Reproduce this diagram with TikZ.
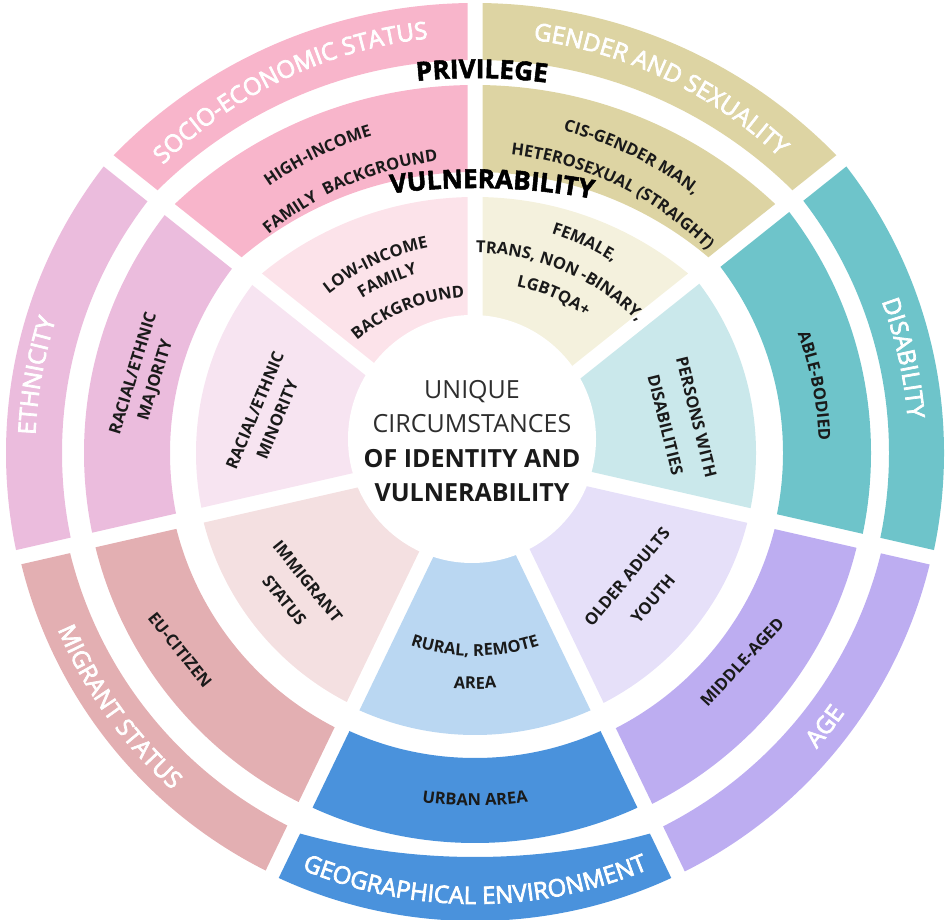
\documentclass[tikz,border=0pt]{standalone}
\usepackage{fontspec}
\setmainfont{Open Sans}
\newfontfamily\wheelsemi{Open Sans}[FakeBold=3]
\newfontfamily\wheelheavy{Open Sans}[BoldFeatures={FakeBold=2}]
\usetikzlibrary{calc,decorations.text}

% ring colours: A = outer and middle bands, B = inner band
\definecolor{socioA}{HTML}{F8B5CB}
\definecolor{socioB}{HTML}{FCE3EA}
\definecolor{ethA}{HTML}{EBBCDD}
\definecolor{ethB}{HTML}{F7E4F1}
\definecolor{migA}{HTML}{E3AFB2}
\definecolor{migB}{HTML}{F4E0E1}
\definecolor{geoA}{HTML}{4A92DC}
\definecolor{geoB}{HTML}{BAD7F2}
\definecolor{ageA}{HTML}{BDADF1}
\definecolor{ageB}{HTML}{E6E0F9}
\definecolor{disA}{HTML}{6EC4CA}
\definecolor{disB}{HTML}{CAE8EB}
\definecolor{genA}{HTML}{DDD4A3}
\definecolor{genB}{HTML}{F4F1DD}
\definecolor{ink}{HTML}{1A1A1A}
\definecolor{softink}{HTML}{2E2E2E}

\newcommand\wheelouter{\wheelsemi\fontsize{24}{24}\selectfont}
\newcommand\wheelaxis{\wheelheavy\fontsize{26}{26}\selectfont\bfseries}
\newcommand\wheellabel{\fontsize{16.5}{20}\selectfont\bfseries}

% one band of a sector: colour, outer centre, outer radius, inner centre,
% inner radius, start angle, end angle; sectors are separated by 15pt gaps
\newcommand\wheelpiece[7]{%
  \begin{scope}
    \coordinate (apex) at ($(O)+({(#6+#7)/2}:{7.5/sin((#7-#6)/2)})$);
    \clip (apex) -- ($(apex)+(#6:900)$) -- ($(apex)+({(#6+#7)/2}:1100)$)
      -- ($(apex)+(#7:900)$) -- cycle;
    \fill[#1, even odd rule] (#2) circle[radius=#3] (#4) circle[radius=#5];
  \end{scope}}

% text along an arc: centre, radius, start angle, end angle, font, colour, text
\newcommand\wheeltext[7]{%
  \path[decorate, decoration={text along path, text align=center,
      text color=#6, text={|#5|#7}}]
    ($(#1)+(#3:#2)$) arc[start angle=#3, end angle=#4, radius=#2];}

\tikzset{
  lbl/.style={font=\bfseries\fontsize{16.5}{#1}\selectfont, align=center,
    inner sep=0pt, text=ink},
  lbl/.default=24,
  core/.style={font=\fontsize{25}{34.5}\selectfont, align=center,
    inner sep=0pt, text=softink}
}

\begin{document}
\begin{tikzpicture}[x=1pt,y=1pt]
\useasboundingbox (0,0) rectangle (947,920);

\coordinate (O) at (475,467);   % hub of the wheel
\coordinate (T) at (475,442);   % arc centre for the lettering of the top sectors
\coordinate (H) at (472,481);   % centre of the white disc
\coordinate (G) at (475,723);   % flatter inner edge of the geographical band
\coordinate (P) at (475,282);   % arc centre of the PRIVILEGE heading
\coordinate (V) at (475,82);    % arc centre of the VULNERABILITY heading
% flatter edges of the two top sectors
\coordinate (S1) at (475,412);
\coordinate (S2) at (475,408);
\coordinate (S3) at (475,397);
\coordinate (S4) at (475,386);
\coordinate (S5) at (475,388);

% socio-economic status
\wheelpiece{socioA}{S1}{505}{S2}{452}{90}{141.43}
\wheelpiece{socioA}{S3}{438}{S4}{362}{90}{141.43}
\wheelpiece{socioB}{S5}{335}{S5}{1}{90}{141.43}
% ethnicity
\wheelpiece{ethA}{O}{469}{O}{413}{141.43}{192.86}
\wheelpiece{ethA}{O}{391}{O}{305}{141.43}{192.86}
\wheelpiece{ethB}{O}{279}{O}{1}{141.43}{192.86}
% migrant status
\wheelpiece{migA}{O}{467}{O}{417}{192.86}{244.29}
\wheelpiece{migA}{O}{391}{O}{308}{192.86}{244.29}
\wheelpiece{migB}{O}{280}{O}{1}{192.86}{244.29}
% geographical environment
\wheelpiece{geoA}{O}{468}{G}{660}{244.29}{295.71}
\wheelpiece{geoA}{O}{390}{O}{305}{244.29}{295.71}
\wheelpiece{geoB}{O}{282}{O}{1}{244.29}{295.71}
% age
\wheelpiece{ageA}{O}{468}{O}{418}{295.71}{347.14}
\wheelpiece{ageA}{O}{393}{O}{309}{295.71}{347.14}
\wheelpiece{ageB}{O}{281}{O}{1}{295.71}{347.14}
% disability
\wheelpiece{disA}{O}{469}{O}{414}{347.14}{398.57}
\wheelpiece{disA}{O}{396}{O}{308}{347.14}{398.57}
\wheelpiece{disB}{O}{281}{O}{1}{347.14}{398.57}
% gender and sexuality
\wheelpiece{genA}{S1}{505}{S2}{452}{38.57}{90}
\wheelpiece{genA}{S3}{438}{S4}{362}{38.57}{90}
\wheelpiece{genB}{S5}{335}{S5}{1}{38.57}{90}

% white hub
\fill[white] (H) circle[radius=124];

% category names on the outer ring
\wheeltext{T}{442}{150}{81}{\wheelouter}{white}{SOCIO-ECONOMIC STATUS}
\wheeltext{T}{442}{99}{30}{\wheelouter}{white}{GENDER AND SEXUALITY}
\wheeltext{O}{440}{205}{135}{\wheelouter}{white}{ETHNICITY}
\wheeltext{O}{434}{45}{-20}{\wheelouter}{white}{DISABILITY}
\wheeltext{O}{452}{-70}{-6}{\wheelouter}{white}{AGE}
\wheeltext{O}{451}{235}{305}{\wheelouter}{white}{GEOGRAPHICAL ENVIRONMENT}
\wheeltext{O}{453}{185}{246}{\wheelouter}{white}{MIGRANT STATUS}

% axis headings
\wheeltext{P}{560}{100}{78.6}{\wheelaxis}{black}{PRIVILEGE}
\wheeltext{V}{650}{102}{75}{\wheelaxis}{black}{VULNERABILITY}

% middle ring
\wheeltext{T}{357}{145}{87}{\wheellabel}{ink}{HIGH-INCOME}
\wheeltext{T}{319}{143}{84}{\wheellabel}{ink}{FAMILY {\hspace*{4pt}}BACKGROUND}
\wheeltext{T}{358}{94}{34}{\wheellabel}{ink}{CIS-GENDER MAN{,}}
\wheeltext{T}{325}{96}{32}{\wheellabel}{ink}{HETEROSEXUAL (STRAIGHT)}
\wheeltext{O}{344}{40}{-17.6}{\wheellabel}{ink}{ABLE-BODIED}
\wheeltext{O}{353}{245}{295}{\wheellabel}{ink}{URBAN AREA}
\node[lbl, rotate=47] (middleaged) at (742,258) {MIDDLE-AGED};
\node[lbl, rotate=-51] (eucitizen) at (180,270) {EU-CITIZEN};
\node[lbl=23, rotate=73] (majority) at (145,543) {RACIAL/ETHNIC\\MAJORITY};

% inner ring
\wheeltext{T}{235}{150}{80}{\wheellabel}{ink}{LOW-INCOME}
\wheeltext{T}{212}{150}{78}{\wheellabel}{ink}{FAMILY}
\wheeltext{T}{181}{150}{74}{\wheellabel}{ink}{BACKGROUND}
\wheeltext{T}{256}{100}{30}{\wheellabel}{ink}{FEMALE{,}}
\wheeltext{T}{225}{105}{28.6}{\wheellabel}{ink}{TRANS{,} NON -BINARY{,}}
\wheeltext{T}{196}{100}{33.4}{\wheellabel}{ink}{LGBTQA+}
\wheeltext{O}{203}{230}{310}{\wheellabel}{ink}{RURAL{,} REMOTE}
\wheeltext{O}{236}{240}{300}{\wheellabel}{ink}{AREA}
\node[lbl=32, rotate=-76] (persons) at (681,499) {PERSONS WITH\\DISABILITIES};
\node[lbl=34, rotate=50] (older) at (640,332) {OLDER ADULTS\\YOUTH};
\node[lbl=30, rotate=-51] (immigrant) at (296,329) {IMMIGRANT\\STATUS};
\node[lbl=24, rotate=67.5] (minority) at (266,505) {RACIAL/ETHNIC\\MINORITY};

% hub text
\node[core] (hub) at (472,479)
  {UNIQUE\\CIRCUMSTANCES\\\textcolor{ink}{\textbf{OF IDENTITY AND}}\\\textcolor{ink}{\textbf{VULNERABILITY}}};
\end{tikzpicture}
\end{document}
